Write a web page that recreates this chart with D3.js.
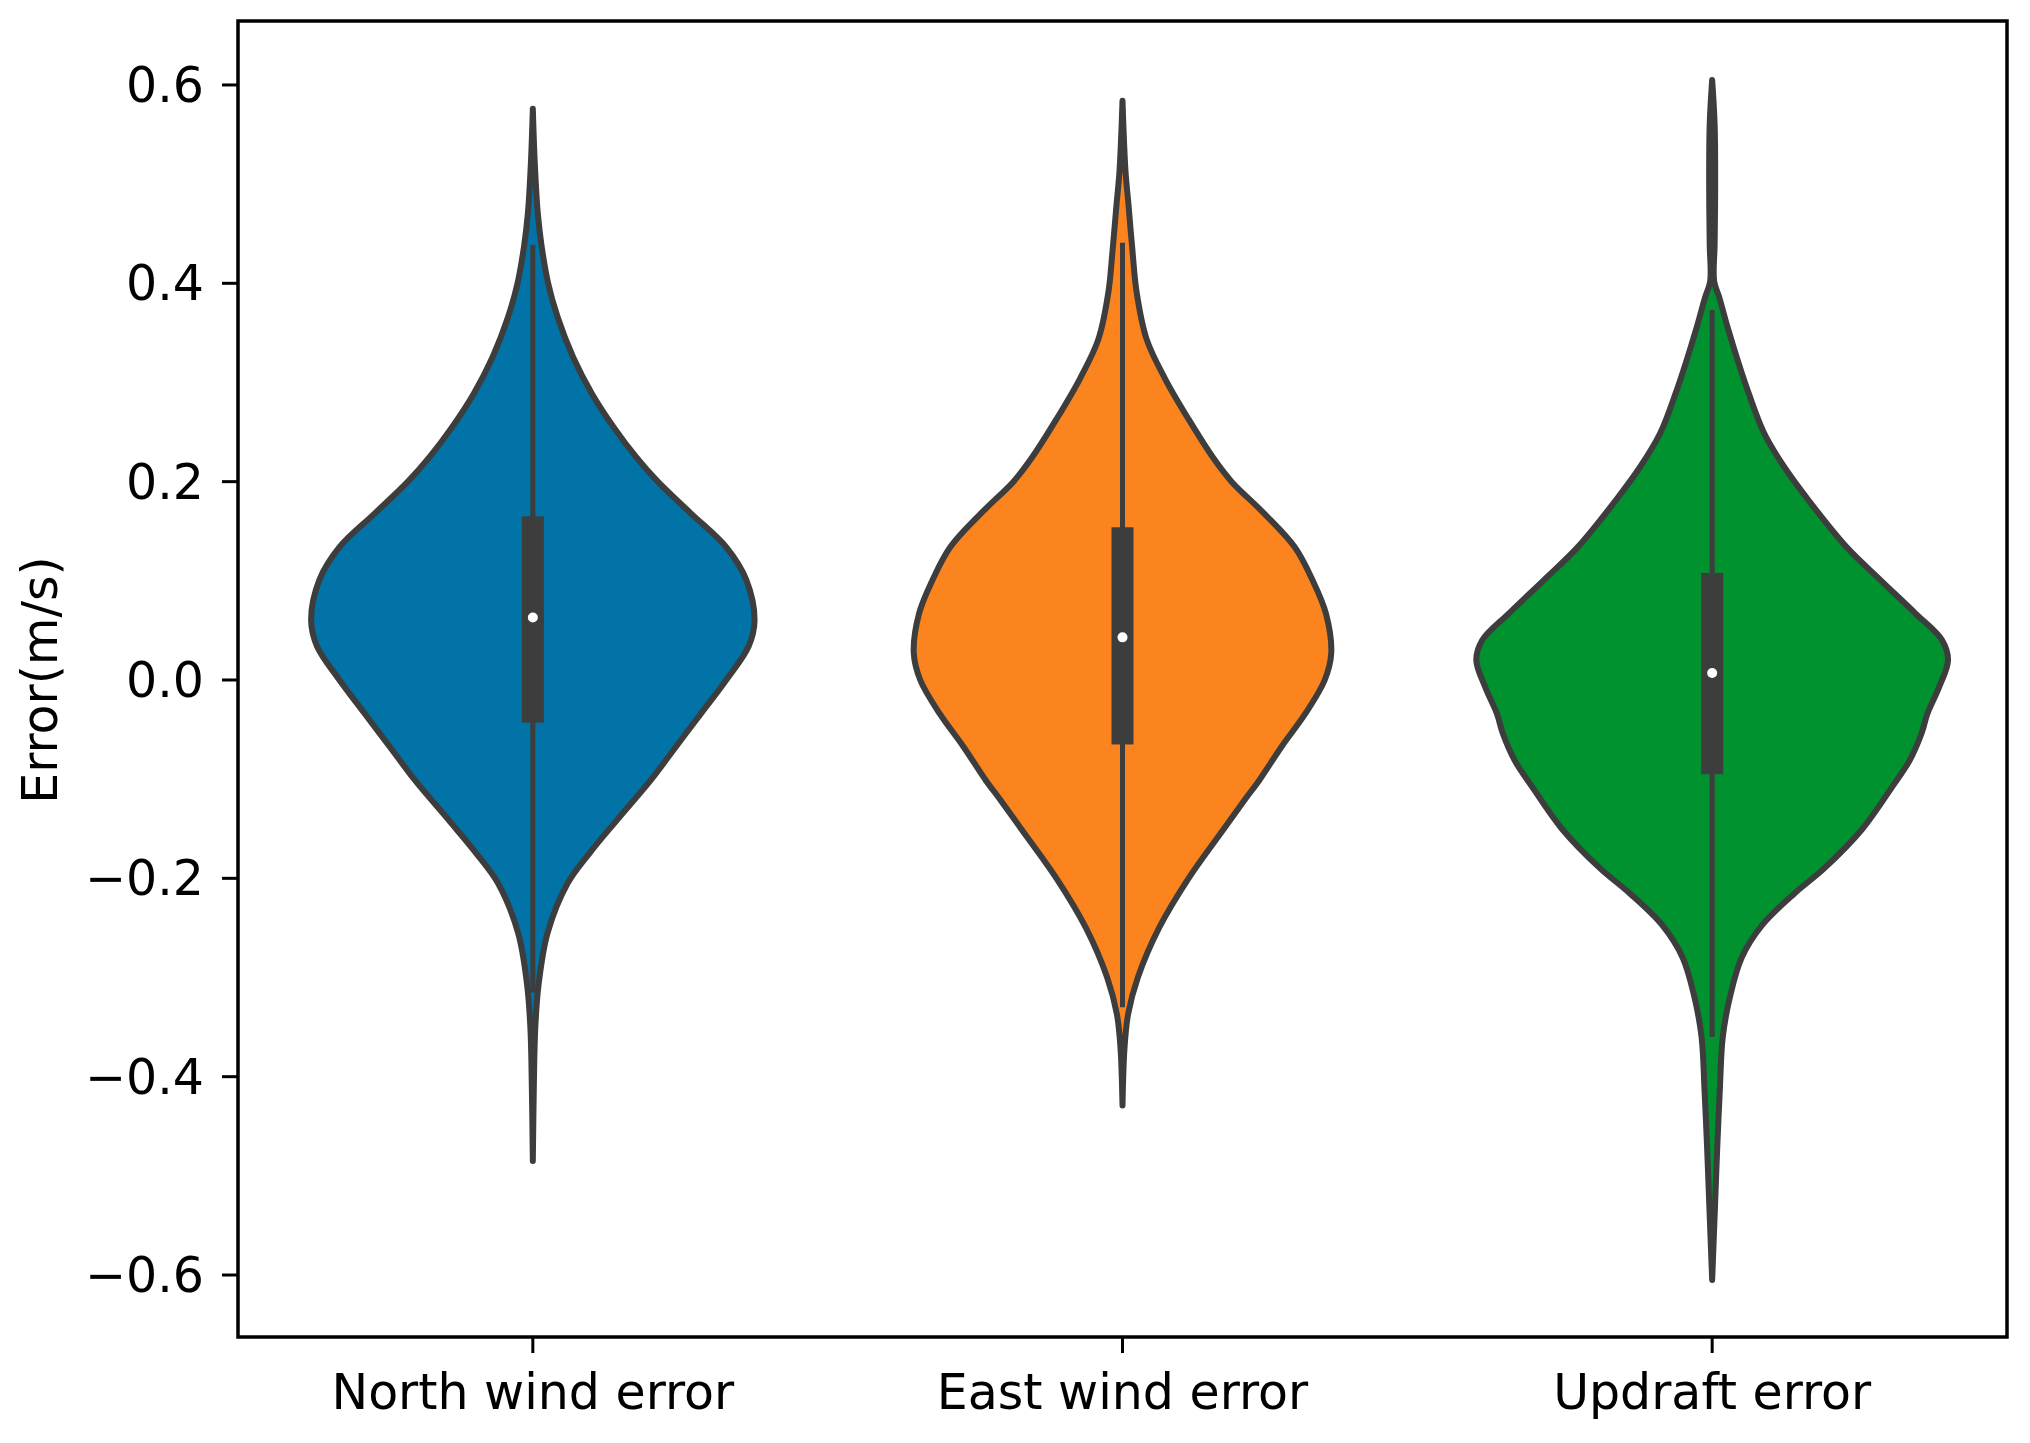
<!DOCTYPE html>
<html>
<head>
<meta charset="utf-8">
<script src="https://cdn.jsdelivr.net/npm/d3@7"></script>
<style>
  body { margin: 0; background: #fff; }
  text { font-family: "DejaVu Sans", sans-serif; fill: #000; }
</style>
</head>
<body>
<svg id="chart" width="2030" height="1443"></svg>
<script>
const categories = ["North wind error", "East wind error", "Updraft error"];
const colors = ["#0173a6", "#fb841f", "#00922f"];

// violin outlines: [value, half width in category units]
const northProfile = [
  [0.576, 0], [0.52, 0.0034], [0.47, 0.0085], [0.437, 0.015], [0.40, 0.026],
  [0.366, 0.042], [0.326, 0.068], [0.289, 0.100], [0.255, 0.137], [0.225, 0.175],
  [0.2, 0.212], [0.168, 0.268], [0.134, 0.328], [0.101, 0.362], [0.06, 0.376],
  [0.034, 0.366], [0.0, 0.328], [-0.034, 0.285], [-0.067, 0.243], [-0.101, 0.200],
  [-0.141, 0.143], [-0.174, 0.097], [-0.205, 0.059], [-0.255, 0.025], [-0.306, 0.010],
  [-0.35, 0.0042], [-0.41, 0.0017], [-0.485, 0]
];
const eastProfile = [
  [0.584, 0], [0.513, 0.0051], [0.479, 0.0102], [0.432, 0.0170], [0.392, 0.0237],
  [0.344, 0.0407], [0.304, 0.072], [0.263, 0.112], [0.223, 0.155], [0.2, 0.185],
  [0.168, 0.240], [0.134, 0.292], [0.101, 0.322], [0.067, 0.345], [0.027, 0.354],
  [0.0, 0.343], [-0.034, 0.310], [-0.067, 0.270], [-0.101, 0.232], [-0.121, 0.207],
  [-0.15, 0.172], [-0.2, 0.112], [-0.25, 0.062], [-0.3, 0.026], [-0.337, 0.0095],
  [-0.371, 0.0034], [-0.429, 0]
];
const updraftProfile = [
  [0.605, 0], [0.56, 0.0042], [0.50, 0.0051], [0.44, 0.0042], [0.402, 0.0034],
  [0.386, 0.0119], [0.354, 0.027], [0.321, 0.044], [0.289, 0.062], [0.249, 0.088],
  [0.215, 0.122], [0.18, 0.165], [0.134, 0.228], [0.101, 0.285], [0.067, 0.345],
  [0.040, 0.390], [0.020, 0.400], [-0.007, 0.385], [-0.034, 0.365], [-0.054, 0.355],
  [-0.081, 0.335], [-0.108, 0.305], [-0.150, 0.255], [-0.190, 0.190], [-0.215, 0.140],
  [-0.247, 0.085], [-0.280, 0.050], [-0.320, 0.030], [-0.360, 0.018], [-0.413, 0.013],
  [-0.473, 0.0085], [-0.526, 0.0051], [-0.605, 0]
];

const medians = [0.063, 0.043, 0.007];
const q1 = [-0.043, -0.065, -0.095];
const q3 = [0.165, 0.154, 0.108];
const whiskerLow = [-0.315, -0.33, -0.36];
const whiskerHigh = [0.439, 0.441, 0.373];

const yTicks = [-0.6, -0.4, -0.2, 0.0, 0.2, 0.4, 0.6];

const profiles = [northProfile, eastProfile, updraftProfile];

var svg = d3.select("#chart");
var plotLeft = 238, plotRight = 2007, plotTop = 21, plotBottom = 1337;

var x = d3.scalePoint().domain(categories).range([plotLeft, plotRight]).padding(0.5);
var y = d3.scaleLinear().domain([-0.6625, 0.6645]).range([plotBottom, plotTop]);
var w = d3.scaleLinear().domain([0, 1]).range([0, x.step()]);

var outline = "#3d3d3d";

categories.forEach(function (cat, i) {
  var cx = x(cat);
  var area = d3.area()
    .y(function (d) { return y(d[0]); })
    .x0(function (d) { return cx - w(d[1]); })
    .x1(function (d) { return cx + w(d[1]); })
    .curve(d3.curveCatmullRom.alpha(0.5));

  svg.append("path")
    .attr("d", area(profiles[i]))
    .attr("fill", colors[i])
    .attr("stroke", outline)
    .attr("stroke-width", 6)
    .attr("stroke-linejoin", "round");

  // whisker
  svg.append("line")
    .attr("x1", cx).attr("x2", cx)
    .attr("y1", y(whiskerHigh[i])).attr("y2", y(whiskerLow[i]))
    .attr("stroke", outline)
    .attr("stroke-width", 5);

  // box
  svg.append("rect")
    .attr("x", cx - 11)
    .attr("width", 22)
    .attr("y", y(q3[i]))
    .attr("height", y(q1[i]) - y(q3[i]))
    .attr("fill", outline);

  svg.append("circle")
    .attr("cx", cx)
    .attr("cy", y(medians[i]))
    .attr("r", 5)
    .attr("fill", "#fff");
});

// frame
svg.append("rect")
  .attr("x", plotLeft).attr("y", plotTop)
  .attr("width", plotRight - plotLeft).attr("height", plotBottom - plotTop)
  .attr("fill", "none")
  .attr("stroke", "#000")
  .attr("stroke-width", 3.5);

var fmt = d3.format(".1f");

var yAxis = svg.append("g");
yTicks.forEach(function (t) {
  yAxis.append("line")
    .attr("x1", plotLeft - 16).attr("x2", plotLeft)
    .attr("y1", y(t)).attr("y2", y(t))
    .attr("stroke", "#000").attr("stroke-width", 3);
  yAxis.append("text")
    .attr("x", plotLeft - 34)
    .attr("y", y(t))
    .attr("dy", "0.35em")
    .attr("text-anchor", "end")
    .style("font-size", "49px")
    .text(fmt(t));
});

var xAxis = svg.append("g");
categories.forEach(function (cat) {
  xAxis.append("line")
    .attr("x1", x(cat)).attr("x2", x(cat))
    .attr("y1", plotBottom).attr("y2", plotBottom + 16)
    .attr("stroke", "#000").attr("stroke-width", 3);
  xAxis.append("text")
    .attr("x", x(cat))
    .attr("y", 1409)
    .attr("text-anchor", "middle")
    .style("font-size", "49px")
    .text(cat);
});

svg.append("text")
  .attr("transform", "translate(57," + y(0) + ") rotate(-90)")
  .attr("text-anchor", "middle")
  .style("font-size", "49px")
  .text("Error(m/s)");
</script>
</body>
</html>
